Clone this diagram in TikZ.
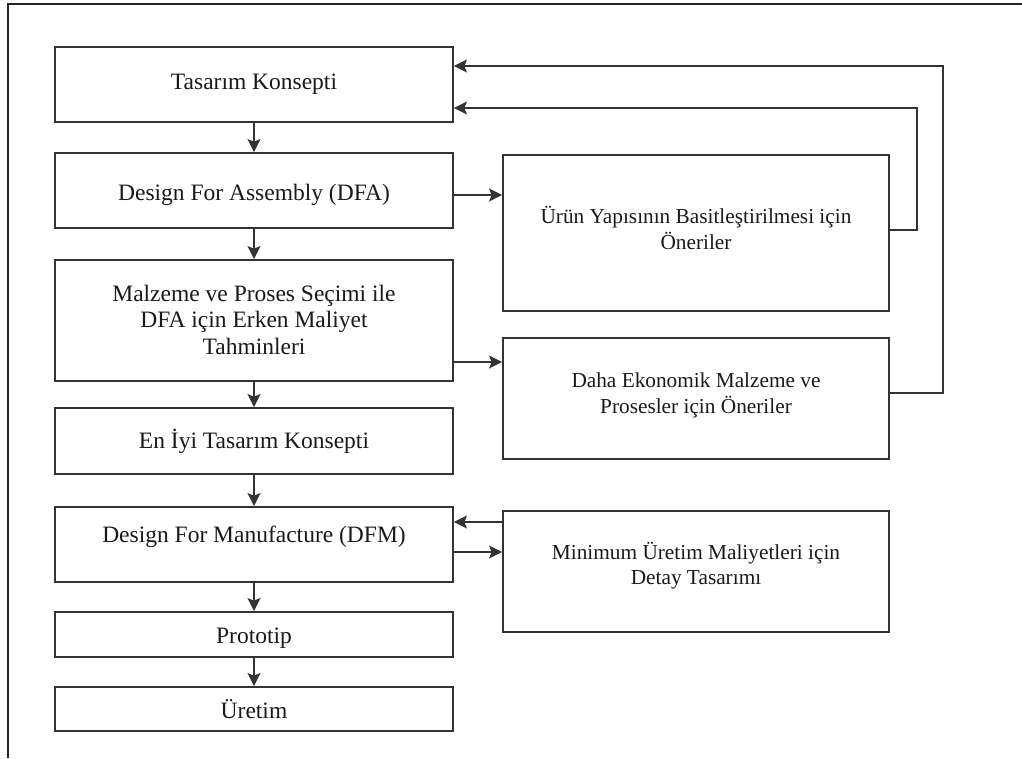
\documentclass[tikz,border=0pt]{standalone}
\usepackage{fontspec}
\setmainfont{Liberation Serif}
\usetikzlibrary{arrows.meta}
\begin{document}
\begin{tikzpicture}[x=1pt,y=-1pt,
  box/.style={draw=black!80,line width=1.8pt,inner sep=0pt},
  lbox/.style={box,minimum width=398pt},
  rbox/.style={box,minimum width=386pt},
  txt/.style={inner sep=0pt,align=center,text=black!90,
    font=\fontsize{23.5}{26.5}\selectfont},
  rtxt/.style={txt,font=\fontsize{21.3}{25.5}\selectfont},
  conn/.style={draw=black!80,line width=1.6pt,-{Stealth[length=13pt,width=13pt,inset=2.5pt]}},
  frame/.style={draw=black!85,line width=1.5pt}]
\useasboundingbox (0,0) rectangle (1022,758);
\draw[frame] (8,758) -- (8,4) -- (1022,4);
% boxes
\node[lbox,minimum height=75pt] (b1) at (254,84.5) {};
\node[lbox,minimum height=75pt] (b2) at (254,190.5) {};
\node[lbox,minimum height=121pt] (b3) at (254,320.5) {};
\node[lbox,minimum height=66pt] (b4) at (254,441) {};
\node[lbox,minimum height=75pt] (b5) at (254,544.5) {};
\node[lbox,minimum height=45pt] (b6) at (254,634.5) {};
\node[lbox,minimum height=44pt] (b7) at (254,709) {};
\node[rbox,minimum height=156pt] (r1) at (696,233) {};
\node[rbox,minimum height=121pt] (r2) at (696,398.5) {};
\node[rbox,minimum height=121pt] (r3) at (696,571.5) {};
% texts
\node[txt] (b1t) at (b1.center) {Tasarım Konsepti};
\node[txt] (b2t) at ([yshift=-4pt]b2.center) {Design For Assembly (DFA)};
\node[txt] (b3t) at ([yshift=1pt]b3.center) {Malzeme ve Proses Seçimi ile\\DFA için Erken Maliyet\\Tahminleri};
\node[txt] (b4t) at (b4.center) {En İyi Tasarım Konsepti};
\node[txt] (b5t) at ([yshift=8pt]b5.center) {Design For Manufacture (DFM)};
\node[txt] (b6t) at ([yshift=-4pt]b6.center) {Prototip};
\node[txt] (b7t) at (b7.center) {Üretim};
\node[rtxt] (r1t) at ([yshift=5pt]r1.center) {Ürün Yapısının Basitleştirilmesi için\\Öneriler};
\node[rtxt] (r2t) at ([yshift=3pt]r2.center) {Daha Ekonomik Malzeme ve\\Prosesler için Öneriler};
\node[rtxt] (r3t) at ([yshift=6pt]r3.center) {Minimum Üretim Maliyetleri için\\Detay Tasarımı};
% vertical chain
\draw[conn] (b1) -- (b2);
\draw[conn] (b2) -- (b3);
\draw[conn] (b3) -- (b4);
\draw[conn] (b4) -- (b5);
\draw[conn] (b5) -- (b6);
\draw[conn] (b6) -- (b7);
% to the right boxes
\coordinate (a1) at ([yshift=-4.5pt]b2.east);
\draw[conn] (a1) -- (a1 -| r1.west);
\coordinate (a2) at ([yshift=-41.5pt]b3.east);
\draw[conn] (a2) -- (a2 -| r2.west);
% feedback loops
\coordinate (f1) at ([yshift=3pt]r1.east);
\coordinate (t1) at ([yshift=-23.5pt]b1.east);
\draw[conn] (f1) -- ++(27,0) |- (t1);
\coordinate (f2) at ([yshift=5.5pt]r2.east);
\coordinate (t2) at ([yshift=18.5pt]b1.east);
\draw[conn] (f2) -- ++(53,0) |- (t2);
% DFM <-> detail
\coordinate (p1) at ([yshift=22.5pt]b5.east);
\draw[conn] (p1 -| r3.west) -- (p1);
\coordinate (p2) at ([yshift=-7.5pt]b5.east);
\draw[conn] (p2) -- (p2 -| r3.west);
\end{tikzpicture}
\end{document}
